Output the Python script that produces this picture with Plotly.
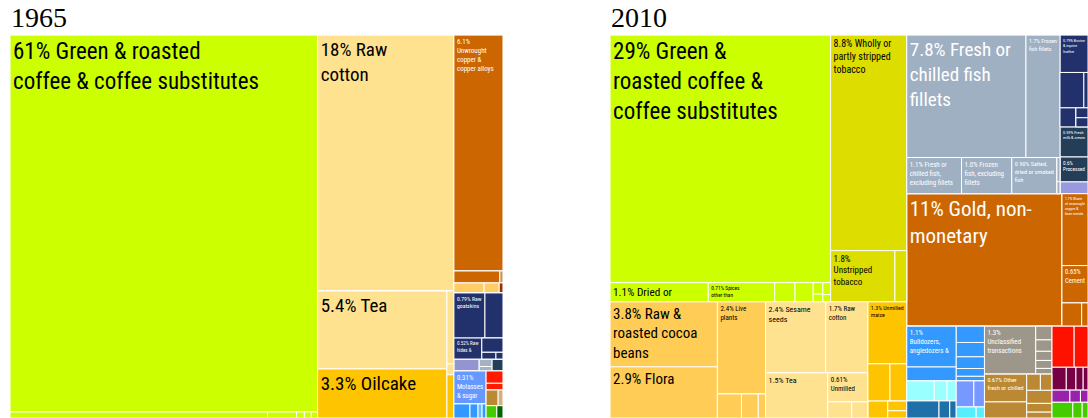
import plotly.graph_objects as go

# export shares (%) of each tile, keyed by its place in the nesting
values_1965 = {
    "c1/coffee": 61.30,
    "c1/strip/a": 0.817, "c1/strip/b": 0.092, "c1/strip/c": 0.025, "c1/strip/d": 0.022, "c1/strip/e": 0.020,
    "c2/cotton": 18.44,
    "c2/low/l/tea": 5.33, "c2/low/l/oilcake": 3.35,
    "c2/low/r/a": 0.27, "c2/low/r/b": 0.04, "c2/low/r/c": 0.16,
    "c3/copper": 6.12,
    "c3/or/a": 0.29, "c3/or/b": 0.02,
    "c3/tan/a": 0.16, "c3/tan/b": 0.08, "c3/tan/c": 0.02,
    "c3/nv/in/top/goat": 0.74, "c3/nv/in/top/b": 0.43,
    "c3/nv/in/bot/hides": 0.31, "c3/nv/in/bot/r/a": 0.16,
    "c3/nv/in/bot/r/s/a": 0.05, "c3/nv/in/bot/r/s/b": 0.025,
    "c3/lav/a": 0.16, "c3/lav/g/a": 0.05, "c3/lav/g/b": 0.03, "c3/lav/s": 0.07,
    "c3/bt/l/sugar": 0.56, "c3/bt/l/row/a": 0.12, "c3/bt/l/row/b": 0.06,
    "c3/bt/l/row/c": 0.03, "c3/bt/l/row/d": 0.03,
    "c3/bt/r/red1": 0.11, "c3/bt/r/red2": 0.06,
    "c3/bt/r/br/a": 0.10, "c3/bt/r/br/b": 0.04,
    "c3/bt/r/gr/a": 0.07, "c3/bt/r/gr/b": 0.04,
}

labels_1965 = {
    "c1/coffee": "61% Green & roasted<br>coffee & coffee substitutes",
    "c2/cotton": "18% Raw<br>cotton",
    "c2/low/l/tea": "5.4% Tea",
    "c2/low/l/oilcake": "3.3% Oilcake",
    "c3/copper": "6.1%<br>Unwrought<br>copper &<br>copper alloys",
    "c3/nv/in/top/goat": "0.79% Raw<br>goatskins",
    "c3/nv/in/bot/hides": "0.52% Raw<br>hides &",
    "c3/bt/l/sugar": "0.31%<br>Molasses<br>& sugar",
}

values_2010 = {
    "L/top/lime/coffee": 29.74,
    "L/top/lime/dr/dried": 1.02, "L/top/lime/dr/spices": 0.69,
    "L/top/lime/dr/a": 0.21, "L/top/lime/dr/b": 0.19,
    "L/top/lime/dr/c/a": 0.06, "L/top/lime/dr/c/b": 0.04,
    "L/top/lime/dr/d/a": 0.05, "L/top/lime/dr/d/b": 0.03,
    "L/top/tob/wholly": 8.94, "L/top/tob/un/unstripped": 1.79, "L/top/tob/un/a": 0.33,
    "L/bot/cocoa/cocoa": 3.81, "L/bot/cocoa/flora": 2.99,
    "L/bot/live/live": 2.42, "L/bot/live/s/a": 0.315, "L/bot/live/s/b": 0.22, "L/bot/live/s/c": 0.095,
    "L/bot/ses/r1/sesame": 2.33, "L/bot/ses/r1/cotton": 1.63,
    "L/bot/ses/r2/tea": 1.53, "L/bot/ses/r2/u/unmilled": 0.635,
    "L/bot/ses/r2/u/s/a": 0.21, "L/bot/ses/r2/u/s/b": 0.14,
    "L/bot/mz/maize": 1.32, "L/bot/mz/r1/a": 0.45, "L/bot/mz/r1/b": 0.34,
    "L/bot/mz/r2/a": 0.185, "L/bot/mz/r2/b/a": 0.10, "L/bot/mz/r2/b/b": 0.075,
    "R/top/fish/ra/fillets": 7.95, "R/top/fish/ra/frozen": 2.27,
    "R/top/fish/rb/fresh": 1.08, "R/top/fish/rb/frozen": 0.99, "R/top/fish/rb/salted": 0.89,
    "R/top/fish/rb/t/a": 0.04, "R/top/fish/rb/t/b": 0.02,
    "R/top/nv/leather": 0.57, "R/top/nv/r1/a": 0.46, "R/top/nv/r1/b": 0.08,
    "R/top/nv/r2/a": 0.165, "R/top/nv/r2/b/a": 0.065, "R/top/nv/r2/b/b": 0.06,
    "R/top/nv/milk": 0.46, "R/top/nv/proc": 0.38, "R/top/nv/lav": 0.18,
    "R/gold/gold": 11.20, "R/gold/oc/waste": 1.02, "R/gold/oc/cement": 0.53,
    "R/gold/oc/s/a": 0.25, "R/gold/oc/s/b": 0.08,
    "R/bot/bl/up/bd/bull": 1.10, "R/bot/bl/up/bd/b": 0.375,
    "R/bot/bl/up/bc/a": 0.25, "R/bot/bl/up/bc/b": 0.22, "R/bot/bl/up/bc/c": 0.18,
    "R/bot/bl/up/bc/d": 0.12, "R/bot/bl/up/bc/e": 0.07,
    "R/bot/bl/lo/l/cy/a": 0.30, "R/bot/bl/lo/l/cy/b": 0.14, "R/bot/bl/lo/l/cy/c": 0.10,
    "R/bot/bl/lo/l/st/a": 0.30, "R/bot/bl/lo/l/st/b": 0.10, "R/bot/bl/lo/l/st/c": 0.06,
    "R/bot/bl/lo/r/pw/a": 0.25, "R/bot/bl/lo/r/pw/b": 0.15,
    "R/bot/bl/lo/r/cy/a": 0.12, "R/bot/bl/lo/r/cy/b": 0.05,
    "R/bot/gb/gr/unclass": 1.34,
    "R/bot/gb/gr/c/a": 0.12, "R/bot/gb/gr/c/b": 0.10, "R/bot/gb/gr/c/c": 0.08,
    "R/bot/gb/gr/c/d": 0.07, "R/bot/gb/gr/c/e": 0.05,
    "R/bot/gb/br/l/other": 0.64, "R/bot/gb/br/l/b": 0.37,
    "R/bot/gb/br/r/x/a": 0.12, "R/bot/gb/br/r/x/b": 0.10,
    "R/bot/gb/br/r/b": 0.18, "R/bot/gb/br/r/c": 0.12, "R/bot/gb/br/r/d": 0.08,
    "R/bot/rd/red/a": 0.50, "R/bot/rd/red/b": 0.31,
    "R/bot/rd/mr/a": 0.18, "R/bot/rd/mr/b": 0.12, "R/bot/rd/mr/c": 0.09, "R/bot/rd/mr/d": 0.06,
    "R/bot/rd/mg/a": 0.12, "R/bot/rd/mg/b": 0.07, "R/bot/rd/mg/c": 0.05,
    "R/bot/rd/gn/a": 0.18, "R/bot/rd/gn/b": 0.08, "R/bot/rd/gn/c": 0.05,
}

labels_2010 = {
    "L/top/lime/coffee": "29% Green &<br>roasted coffee &<br>coffee substitutes",
    "L/top/lime/dr/dried": "1.1% Dried or",
    "L/top/lime/dr/spices": "0.71% Spices<br>other than",
    "L/top/tob/wholly": "8.8% Wholly or<br>partly stripped<br>tobacco",
    "L/top/tob/un/unstripped": "1.8%<br>Unstripped<br>tobacco",
    "L/bot/cocoa/cocoa": "3.8% Raw &<br>roasted cocoa<br>beans",
    "L/bot/cocoa/flora": "2.9% Flora",
    "L/bot/live/live": "2.4% Live<br>plants",
    "L/bot/ses/r1/sesame": "2.4% Sesame<br>seeds",
    "L/bot/ses/r1/cotton": "1.7% Raw<br>cotton",
    "L/bot/ses/r2/tea": "1.5% Tea",
    "L/bot/ses/r2/u/unmilled": "0.61%<br>Unmilled",
    "L/bot/mz/maize": "1.3% Unmilled<br>maize",
    "R/top/fish/ra/fillets": "7.8% Fresh or<br>chilled fish<br>fillets",
    "R/top/fish/ra/frozen": "1.7% Frozen<br>fish fillets",
    "R/top/fish/rb/fresh": "1.1% Fresh or<br>chilled fish,<br>excluding fillets",
    "R/top/fish/rb/frozen": "1.0% Frozen<br>fish, excluding<br>fillets",
    "R/top/fish/rb/salted": "0.90% Salted,<br>dried or smoked<br>fish",
    "R/top/nv/leather": "0.79% Bovine<br>& equine<br>leather",
    "R/top/nv/milk": "0.59% Fresh<br>milk & cream",
    "R/top/nv/proc": "0.6%<br>Processed",
    "R/gold/gold": "11% Gold, non-<br>monetary",
    "R/gold/oc/waste": "1.7% Waste<br>of unwrought<br>copper &<br>base metals",
    "R/gold/oc/cement": "0.65%<br>Cement",
    "R/bot/bl/up/bd/bull": "1.1%<br>Bulldozers,<br>angledozers &",
    "R/bot/gb/gr/unclass": "1.3%<br>Unclassified<br>transactions",
    "R/bot/gb/br/l/other": "0.67% Other<br>fresh or chilled",
}

# tile colours (longest matching prefix wins)
LIME, TAN, AMBER, RUST = "#CCFF00", "#FFE28F", "#FFC400", "#CC6600"
NAVY, SLATE = "#22316B", "#243E58"
colors_1965 = {
    "c1": LIME, "c2": TAN, "c2/low/l/oilcake": AMBER, "c2/low/r/c": AMBER,
    "c3/copper": RUST, "c3/or": RUST, "c3/or/b": "#C89060",
    "c3/tan": "#FFCC66", "c3/tan/c": "#993300",
    "c3/nv": NAVY, "c3/lav/a": "#9494D0", "c3/lav/g": "#A3B3C3", "c3/lav/s": SLATE,
    "c3/bt/l/sugar": "#6699FF", "c3/bt/l/row": "#3399FF", "c3/bt/l/row/c": "#66BBFF",
    "c3/bt/r/red1": "#FF1A00", "c3/bt/r/red2": "#FF1A00",
    "c3/bt/r/br": "#BB8833", "c3/bt/r/br/b": "#D4B080",
    "c3/bt/r/gr/a": "#44CC00", "c3/bt/r/gr/b": "#006600",
}
colors_2010 = {
    "L/top/lime": LIME, "L/top/tob": "#DDDD00",
    "L/bot/cocoa": "#FFCC55", "L/bot/live": "#FFCC55", "L/bot/ses": TAN, "L/bot/mz": AMBER,
    "R/top/fish": "#9FB0C3", "R/top/nv": NAVY, "R/top/nv/milk": SLATE,
    "R/top/nv/proc": SLATE, "R/top/nv/lav": "#9999DD",
    "R/gold": RUST,
    "R/bot/bl": "#3399FF", "R/bot/bl/lo/l/cy": "#99FFFF", "R/bot/bl/lo/l/st": "#1F6FA8",
    "R/bot/bl/lo/r/pw": "#7799FF", "R/bot/bl/lo/r/cy": "#55EEFF",
    "R/bot/gb/gr": "#9C978A", "R/bot/gb/br": "#BB8833",
    "R/bot/rd/red": "#FF1100", "R/bot/rd/mr": "#770044", "R/bot/rd/mg": "#9922AA",
    "R/bot/rd/gn": "#44CC00",
}

LIGHT_TEXT = {RUST, NAVY, SLATE, "#6699FF", "#3399FF", "#9FB0C3", "#9C978A", "#BB8833"}
FONT = "Liberation Sans Narrow, Roboto Condensed, Roboto, sans-serif"
font_sizes = {
    "c1/coffee": 23, "c2/cotton": 19, "c2/low/l/tea": 19, "c2/low/l/oilcake": 19,
    "L/top/lime/coffee": 23, "L/top/tob/wholly": 10, "R/top/fish/ra/fillets": 19,
    "R/gold/gold": 21, "L/bot/cocoa/cocoa": 15, "L/bot/cocoa/flora": 15,
    "L/top/lime/dr/dried": 13, "L/top/lime/dr/spices": 9, "L/top/tob/un/unstripped": 9,
    "L/bot/ses/r1/sesame": 8, "L/bot/ses/r2/tea": 8,
}


def pick(colors, path):
    best = None
    for key in colors:
        if path == key or path.startswith(key + "/"):
            if best is None or len(key) > len(best):
                best = key
    return colors[best] if best else "white"


def treemap(values, labels, colors, root, xdom):
    ids, parents, vals, cols, texts, sizes, tcols = [root], [""], [0], ["white"], [""], [10], ["black"]
    seen = {root}
    for path, v in values.items():
        parts = path.split("/")
        for i in range(1, len(parts) + 1):
            sub = "/".join(parts[:i])
            node = root + "/" + sub
            if node in seen:
                continue
            seen.add(node)
            leaf = i == len(parts)
            ids.append(node)
            parents.append(root + "/" + "/".join(parts[:i - 1]) if i > 1 else root)
            vals.append(v if leaf else 0)
            c = pick(colors, sub)
            cols.append(c)
            texts.append(labels.get(sub, "") if leaf else "")
            sizes.append(font_sizes.get(sub, 7))
            tcols.append("white" if c in LIGHT_TEXT else "black")
    return go.Treemap(
        ids=ids, labels=ids, parents=parents, values=vals, text=texts,
        texttemplate="%{text}", textposition="top left",
        textfont=dict(family=FONT, size=sizes, color=tcols),
        branchvalues="remainder", sort=False,
        tiling=dict(packing="slice-dice", pad=0),
        marker=dict(colors=cols, line=dict(color="white", width=1),
                    pad=dict(t=0, l=0, r=0, b=0)),
        pathbar=dict(visible=False),
        hoverinfo="skip", domain=dict(x=xdom, y=[0, 0.916]),
    )


fig = go.Figure()
fig.add_trace(treemap(values_1965, labels_1965, colors_1965, "1965", [0.0092, 0.4623]))
fig.add_trace(treemap(values_2010, labels_2010, colors_2010, "2010", [0.5607, 1.0]))

for x, year in [(0.0083, "1965"), (0.5597, "2010")]:
    fig.add_annotation(x=x, y=0.958, xref="paper", yref="paper", text=year,
                       showarrow=False, xanchor="left", yanchor="middle",
                       font=dict(family="Liberation Serif, Times New Roman, serif",
                                 size=28, color="black"))

fig.update_layout(width=1088, height=418, margin=dict(l=0, r=0, t=0, b=0),
                  paper_bgcolor="white")
# drop the page's default 8px body margin so the figure sits at the window corner
fig.write_html("out.html", config={"displayModeBar": False},
               post_script="document.body.style.margin = '0';")
